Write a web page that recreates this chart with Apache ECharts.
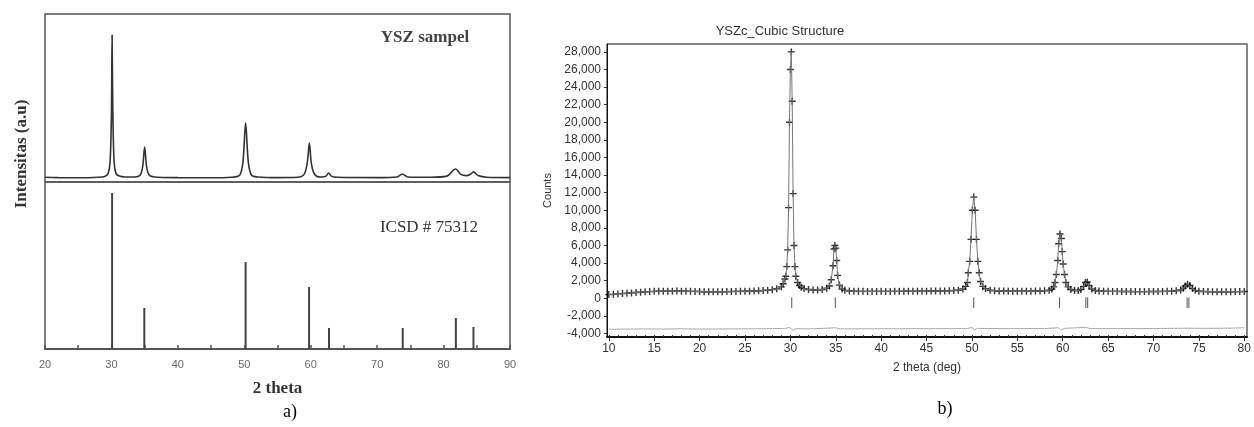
<!DOCTYPE html>
<html>
<head>
    <meta charset="utf-8">
    <title>YSZ XRD</title>
    <script src="https://cdn.jsdelivr.net/npm/echarts@6/dist/echarts.min.js"></script>
    <style type="text/css">
        * {
            margin: 0;
            padding: 0;
        }

        #main {
            width: 1254px;
            height: 427px;
            background: #fff;
        }
    </style>
</head>
<body>
<div id="main"></div>

<script type="text/javascript">
    // panel a) - measured pattern (relative intensity, upper box)
    var samplePattern = [
        [20, 2.8], [22, 2.6], [25, 2.5], [28, 2.8], [29, 3.3], [29.5, 5], [29.8, 12], [30, 40], [30.1, 87.5],
        [30.2, 45], [30.4, 12], [30.7, 5], [31.2, 3.5], [32, 3], [33.5, 3], [34.3, 4], [34.7, 9], [35, 20.8],
        [35.3, 9], [35.7, 4], [36.5, 3], [40, 2.6], [45, 2.5], [48, 2.8], [49.3, 4], [49.8, 12], [50.2, 35.1],
        [50.6, 12], [51.1, 4], [52, 3], [55, 2.6], [58, 2.8], [59, 4.5], [59.5, 12], [59.8, 23.2], [60.1, 11],
        [60.6, 4.5], [61.5, 3], [62.3, 3.5], [62.7, 5.4], [63.1, 3.5], [64, 2.8], [70, 2.6], [73, 3],
        [73.8, 4.8], [74.6, 3], [78, 2.8], [80.5, 3.5], [81.8, 7.7], [82.6, 4.5], [83.4, 3.8], [84, 4.5],
        [84.5, 6], [85.2, 3.8], [86.5, 2.8], [90, 2.6]
    ];
    // panel a) - ICSD # 75312 reference sticks (lower box)
    var icsdPos = [30.1, 34.95, 50.2, 59.75, 62.75, 73.85, 81.85, 84.5];
    var icsdInt = [93.4, 24.6, 52.1, 37.1, 12.6, 12.6, 18.6, 13.2];

    // panel b) - observed counts, split by region
    var bgLow = [
        [10, 420], [10.5, 450], [11, 500], [11.5, 530], [12, 570], [12.5, 610], [13, 650], [13.5, 690], [14, 730],
        [14.5, 760], [15, 790], [15.5, 800], [16, 810], [16.5, 800], [17, 810], [17.5, 820], [18, 810], [18.5, 800],
        [19, 790], [19.5, 780], [20, 770], [20.5, 750], [21, 740], [21.5, 740], [22, 750], [22.5, 750], [23, 760],
        [23.5, 770], [24, 780], [24.5, 790], [25, 800], [25.5, 810], [26, 830], [26.5, 850], [27, 880],
        [27.5, 920], [28, 980], [28.5, 1080]
    ];
    var peak30 = [
        [29.0, 1300], [29.2, 1650], [29.4, 2200], [29.5, 2500], [29.6, 3600], [29.7, 5500], [29.8, 10300],
        [29.9, 20000], [30.0, 26000], [30.1, 28000], [30.2, 22400], [30.3, 11900], [30.4, 6000], [30.5, 3600],
        [30.6, 2500], [30.8, 1800], [31.0, 1450], [31.2, 1250], [31.5, 1100], [32, 1000], [32.5, 950],
        [33, 950], [33.5, 1000], [34, 1150]
    ];
    var peak35 = [
        [34.3, 1400], [34.5, 2100], [34.7, 3700], [34.8, 5600], [34.9, 6000], [35.0, 5700], [35.1, 4300],
        [35.2, 2600], [35.4, 1500], [35.7, 1050], [36.0, 900]
    ];
    var bgMid = [
        [36.5, 820], [37, 800], [37.5, 790], [38, 790], [38.5, 780], [39, 780], [39.5, 780], [40, 790], [40.5, 780],
        [41, 780], [41.5, 790], [42, 790], [42.5, 800], [43, 800], [43.5, 790], [44, 800], [44.5, 800], [45, 810],
        [45.5, 820], [46, 820], [46.5, 830], [47, 840], [47.5, 860], [48, 880], [48.5, 920]
    ];
    var peak50 = [
        [49.0, 1050], [49.3, 1350], [49.5, 1800], [49.6, 2900], [49.75, 4200], [49.9, 6700], [50.05, 10000],
        [50.2, 11500], [50.35, 10000], [50.5, 6700], [50.65, 4200], [50.8, 2900], [50.95, 1900], [51.2, 1350],
        [51.5, 1100], [52.0, 920]
    ];
    var bgMid2 = [
        [52.5, 860], [53, 830], [53.5, 820], [54, 810], [54.5, 800], [55, 800], [55.5, 810], [56, 800], [56.5, 810],
        [57, 820], [57.5, 830], [58, 860], [58.5, 920]
    ];
    var peak60 = [
        [58.8, 1050], [59.0, 1300], [59.15, 1800], [59.3, 2700], [59.45, 4300], [59.55, 6200], [59.7, 7300],
        [59.85, 6800], [59.95, 5300], [60.05, 3900], [60.2, 2700], [60.35, 1800], [60.6, 1300], [60.9, 1000],
        [61.3, 880], [61.7, 880], [62.0, 1000], [62.3, 1350], [62.5, 1800], [62.7, 1850], [62.9, 1450],
        [63.2, 1050], [63.6, 880]
    ];
    var bgHigh = [
        [64, 820], [64.5, 800], [65, 790], [65.5, 780], [66, 780], [66.5, 770], [67, 770], [67.5, 770], [68, 760],
        [68.5, 760], [69, 760], [69.5, 770], [70, 770], [70.5, 770], [71, 780], [71.5, 790], [72, 800],
        [72.5, 850], [73, 950], [73.3, 1150], [73.5, 1400], [73.75, 1600], [74.0, 1450], [74.3, 1100],
        [74.6, 900], [75, 800], [75.5, 770], [76, 760], [76.5, 750], [77, 750], [77.5, 750], [78, 750],
        [78.5, 750], [79, 760], [79.5, 760], [80, 770]
    ];
    // difference curve (obs - calc, shifted)
    var diffCurve = [
        [10, -3520], [12, -3500], [14, -3480], [16, -3500], [18, -3470], [20, -3500], [22, -3490], [24, -3480],
        [26, -3470], [28, -3450], [29.5, -3420], [29.9, -3300], [30.1, -3150], [30.3, -3650], [30.6, -3450],
        [32, -3480], [34, -3400], [35, -3350], [35.5, -3480], [38, -3470], [42, -3460], [46, -3450],
        [49.5, -3450], [50, -3300], [50.3, -3600], [50.6, -3420], [54, -3450], [58, -3440], [59.5, -3350],
        [59.8, -3600], [60.2, -3420], [62.6, -3300], [63, -3450], [66, -3450], [70, -3440], [73.8, -3400],
        [76, -3420], [79, -3380], [80, -3350]
    ];
    // Bragg reflection markers
    var braggPos = [30.15, 34.95, 50.2, 59.65, 62.55, 62.75, 73.7, 73.9];
    var braggLow = -1100, braggHigh = 100;
    var bCountTicks = [-4000, -2000, 0, 2000, 4000, 6000, 8000, 10000, 12000, 14000, 16000, 18000, 20000,
        22000, 24000, 26000, 28000];
    var bThetaTicks = [10, 15, 20, 25, 30, 35, 40, 45, 50, 55, 60, 65, 70, 75, 80];
    var bMinorTicks = [];
    for (var t = 10; t <= 80; t++) bMinorTicks.push(t);

    var observed = [].concat(bgLow, peak30, peak35, bgMid, peak50, bgMid2, peak60, bgHigh);

    var myChart = echarts.init(document.getElementById('main'));

    var serif = 'Liberation Serif';
    var sans = 'Liberation Sans';
    var plusPath = 'path://M4,0H6V4H10V6H6V10H4V6H0V4H4Z';

    option = {
        animation: false,
        backgroundColor: '#fff',
        title: [
            {text: 'YSZc_Cubic Structure', left: 775, top: 20, textAlign: 'center',
                textStyle: {fontFamily: sans, fontSize: 13, fontWeight: 'normal', color: '#333'}},
            {text: 'YSZ sampel', left: 420, top: 24, textAlign: 'center',
                textStyle: {fontFamily: serif, fontSize: 17, fontWeight: 'bold', color: '#444'}},
            {text: 'ICSD # 75312', left: 424, top: 214, textAlign: 'center',
                textStyle: {fontFamily: serif, fontSize: 17, fontWeight: 'normal', color: '#333'}},
            {text: 'a)', left: 285, top: 398, textAlign: 'center',
                textStyle: {fontFamily: serif, fontSize: 18, fontWeight: 'normal', color: '#000'}},
            {text: 'b)', left: 940, top: 395, textAlign: 'center',
                textStyle: {fontFamily: serif, fontSize: 18, fontWeight: 'normal', color: '#000'}}
        ],
        graphic: [
            {type: 'text', x: 22, y: 154, rotation: Math.PI / 2,
                style: {text: 'Intensitas (a.u)', font: 'bold 17px "Liberation Serif"', fill: '#333',
                    textAlign: 'center', textVerticalAlign: 'middle'}}
        ],
        grid: [
            {left: 45, top: 14, width: 465, height: 168, show: true, borderColor: '#555', borderWidth: 1.5},
            {left: 45, top: 182, width: 465, height: 167, show: true, borderColor: '#555', borderWidth: 1.5},
            {left: 607, top: 44, width: 640, height: 293, show: true, borderColor: '#111', borderWidth: 1}
        ],
        xAxis: [
            {gridIndex: 0, type: 'value', min: 20, max: 90, interval: 10,
                axisLine: {show: false}, axisTick: {show: false}, axisLabel: {show: false}, splitLine: {show: false}},
            {gridIndex: 1, type: 'value', min: 20, max: 90, interval: 10,
                name: '2 theta', nameLocation: 'middle', nameGap: 31,
                nameTextStyle: {fontFamily: serif, fontSize: 17, fontWeight: 'bold', color: '#333'},
                axisLine: {lineStyle: {color: '#555', width: 2}},
                axisTick: {inside: true, length: 4, lineStyle: {color: '#555', width: 1.5}},
                minorTick: {show: true, splitNumber: 2, length: 4, lineStyle: {color: '#555', width: 1.5}},
                axisLabel: {fontFamily: sans, fontSize: 11, color: '#666', margin: 10},
                splitLine: {show: false}},
            {gridIndex: 2, type: 'value', min: 9.8, max: 80.3,
                name: '2 theta (deg)', nameLocation: 'middle', nameGap: 25,
                nameTextStyle: {fontFamily: sans, fontSize: 12, color: '#333'},
                axisLine: {onZero: false, lineStyle: {color: '#111', width: 2}},
                axisTick: {show: true, length: 4, customValues: bThetaTicks, lineStyle: {color: '#333'}},
                axisLabel: {customValues: bThetaTicks, fontFamily: sans, fontSize: 12, color: '#333', margin: 6},
                splitLine: {show: false}},
            {gridIndex: 2, type: 'value', min: 9.8, max: 80.3, position: 'bottom',
                axisLine: {show: false, onZero: false},
                axisTick: {show: true, inside: true, length: 2, customValues: bMinorTicks, lineStyle: {color: '#333'}},
                axisLabel: {show: false}, splitLine: {show: false}}
        ],
        yAxis: [
            {gridIndex: 0, type: 'value', min: 0, max: 100,
                axisLine: {show: false}, axisTick: {show: false}, axisLabel: {show: false}, splitLine: {show: false}},
            {gridIndex: 1, type: 'value', min: 0, max: 100,
                axisLine: {show: false}, axisTick: {show: false}, axisLabel: {show: false}, splitLine: {show: false}},
            {gridIndex: 2, type: 'value', min: -4400, max: 28900,
                name: 'Counts', nameLocation: 'middle', nameGap: 47,
                nameTextStyle: {fontFamily: sans, fontSize: 11, color: '#333'},
                axisLine: {show: true, onZero: false, lineStyle: {color: '#111', width: 1}},
                axisTick: {show: true, length: 3, customValues: bCountTicks, lineStyle: {color: '#333'}},
                axisLabel: {customValues: bCountTicks, fontFamily: sans, fontSize: 12, color: '#333', margin: 6,
                    formatter: function (v) { return v.toLocaleString('en-US'); }},
                splitLine: {show: false}},
            {gridIndex: 2, type: 'value', min: -4400, max: 28900, position: 'right',
                axisLine: {show: true, onZero: false, lineStyle: {color: '#888', width: 2}},
                axisTick: {show: false}, axisLabel: {show: false}, splitLine: {show: false}}
        ],
        series: [
            {
                name: 'YSZ sampel', type: 'line', xAxisIndex: 0, yAxisIndex: 0,
                data: samplePattern, smooth: 0.3, showSymbol: false,
                lineStyle: {color: '#333', width: 1.6}
            },
            {
                name: 'ICSD # 75312', type: 'custom', xAxisIndex: 1, yAxisIndex: 1,
                data: icsdPos.map(function (p, i) { return [p, icsdInt[i]]; }),
                encode: {x: 0, y: 1},
                renderItem: function (params, api) {
                    var p0 = api.coord([api.value(0), 0]);
                    var p1 = api.coord([api.value(0), api.value(1)]);
                    return {type: 'line', shape: {x1: p0[0], y1: p0[1], x2: p1[0], y2: p1[1]},
                        style: {stroke: '#444', lineWidth: 2}};
                }
            },
            {
                name: 'diff', type: 'line', xAxisIndex: 2, yAxisIndex: 2,
                data: diffCurve, showSymbol: false,
                lineStyle: {color: '#aaa', width: 1}
            },
            {
                name: 'calc', type: 'line', xAxisIndex: 2, yAxisIndex: 2,
                data: observed, showSymbol: false,
                lineStyle: {color: '#777', width: 1}
            },
            {
                name: 'obs', type: 'scatter', xAxisIndex: 2, yAxisIndex: 2,
                data: observed, symbol: plusPath, symbolSize: 7,
                itemStyle: {color: '#000'}
            },
            {
                name: 'bragg', type: 'custom', xAxisIndex: 2, yAxisIndex: 2,
                data: braggPos.map(function (p) { return [p, braggLow, braggHigh]; }),
                encode: {x: 0, y: [1, 2]},
                renderItem: function (params, api) {
                    var p0 = api.coord([api.value(0), api.value(1)]);
                    var p1 = api.coord([api.value(0), api.value(2)]);
                    return {type: 'line', shape: {x1: p0[0], y1: p0[1], x2: p1[0], y2: p1[1]},
                        style: {stroke: '#555', lineWidth: 1}};
                }
            }
        ]
    };

    myChart.setOption(option);
</script>
</body>
</html>
